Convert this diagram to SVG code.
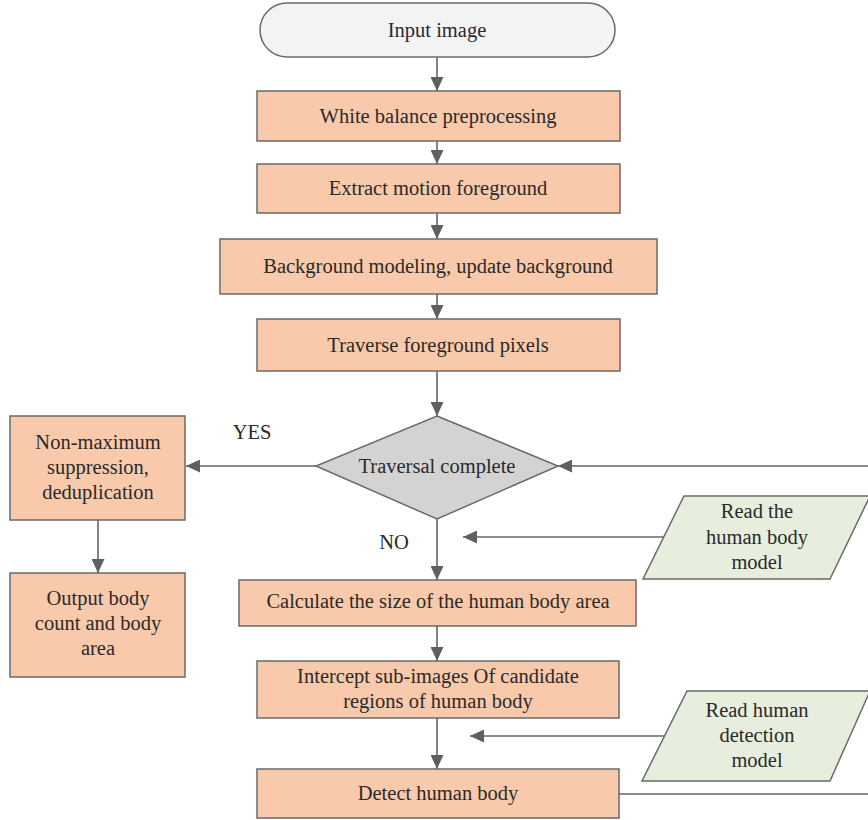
<svg xmlns="http://www.w3.org/2000/svg" width="868" height="820" viewBox="0 0 868 820">
<style>
.box{fill:#f8c9ab;stroke:#6a6a6a;stroke-width:1.5}
.term{fill:#f3f3f3;stroke:#6a6a6a;stroke-width:1.5}
.dia{fill:#d3d3d3;stroke:#6a6a6a;stroke-width:1.5}
.io{fill:#e8eede;stroke:#6a6a6a;stroke-width:1.5}
text{font-family:"Liberation Serif","Times New Roman",serif;font-size:20.5px;fill:#2a2a2a;text-anchor:middle;dominant-baseline:central}
.c{fill:none;stroke:#666;stroke-width:1.6}
</style>
<defs>
<marker id="ah" markerUnits="userSpaceOnUse" markerWidth="15" markerHeight="13" refX="14" refY="6.5" orient="auto">
<path d="M0,0 L14,6.5 L0,13 z" fill="#5f5f5f"/>
</marker>
</defs>
<rect width="868" height="820" fill="#fff"/>
<g id="connectors">
<path class="c" d="M437,57 V91" marker-end="url(#ah)"/>
<path class="c" d="M437,141 V164" marker-end="url(#ah)"/>
<path class="c" d="M437,213 V239" marker-end="url(#ah)"/>
<path class="c" d="M437,294 V319" marker-end="url(#ah)"/>
<path class="c" d="M437,371 V416" marker-end="url(#ah)"/>
<path class="c" d="M437,519 V580" marker-end="url(#ah)"/>
<path class="c" d="M437,626 V661" marker-end="url(#ah)"/>
<path class="c" d="M437,718 V769" marker-end="url(#ah)"/>
<path class="c" d="M316,466 H186" marker-end="url(#ah)"/>
<path class="c" d="M98,520 V573" marker-end="url(#ah)"/>
<path class="c" d="M664,537 H463" marker-end="url(#ah)"/>
<path class="c" d="M664,736 H470" marker-end="url(#ah)"/>
<path class="c" d="M619,794 H875 V466 H558" marker-end="url(#ah)"/>
<text x="252" y="432">YES</text>
<text x="394" y="542">NO</text>
</g>
<g id="input"><rect class="term" x="260" y="3" width="355" height="54" rx="27"/><text x="437" y="30">Input image</text></g>
<g id="whitebalance"><rect class="box" x="257" y="91" width="363" height="50"/><text x="438" y="116">White balance preprocessing</text></g>
<g id="extract"><rect class="box" x="257" y="164" width="363" height="49"/><text x="438" y="188">Extract motion foreground</text></g>
<g id="background"><rect class="box" x="220" y="239" width="437" height="55"/><text x="438" y="266">Background modeling, update background</text></g>
<g id="traverse"><rect class="box" x="257" y="319" width="363" height="52"/><text x="438" y="345">Traverse foreground pixels</text></g>
<g id="decision"><polygon class="dia" points="437,416 558,466 437,519 316,466"/><text x="437" y="466">Traversal complete</text></g>
<g id="nms"><rect class="box" x="10" y="416" width="175" height="104"/><text x="98" y="442">Non-maximum</text><text x="98" y="467">suppression,</text><text x="98" y="492">deduplication</text></g>
<g id="output"><rect class="box" x="10" y="573" width="175" height="104"/><text x="98" y="598">Output body</text><text x="98" y="623">count and body</text><text x="98" y="648">area</text></g>
<g id="readbody"><polygon class="io" points="684,496 870,496 830,579 643,579"/><text x="757" y="511">Read the</text><text x="757" y="537">human body</text><text x="757" y="562">model</text></g>
<g id="calculate"><rect class="box" x="239" y="580" width="397" height="46"/><text x="438" y="601">Calculate the size of the human body area</text></g>
<g id="intercept"><rect class="box" x="257" y="661" width="362" height="57"/><text x="438" y="676">Intercept sub-images Of candidate</text><text x="438" y="701">regions of human body</text></g>
<g id="readdetect"><polygon class="io" points="687,691 870,691 830,781 642,781"/><text x="757" y="710">Read human</text><text x="757" y="735">detection</text><text x="757" y="760">model</text></g>
<g id="detect"><rect class="box" x="257" y="769" width="362" height="49"/><text x="438" y="793">Detect human body</text></g>
</svg>
